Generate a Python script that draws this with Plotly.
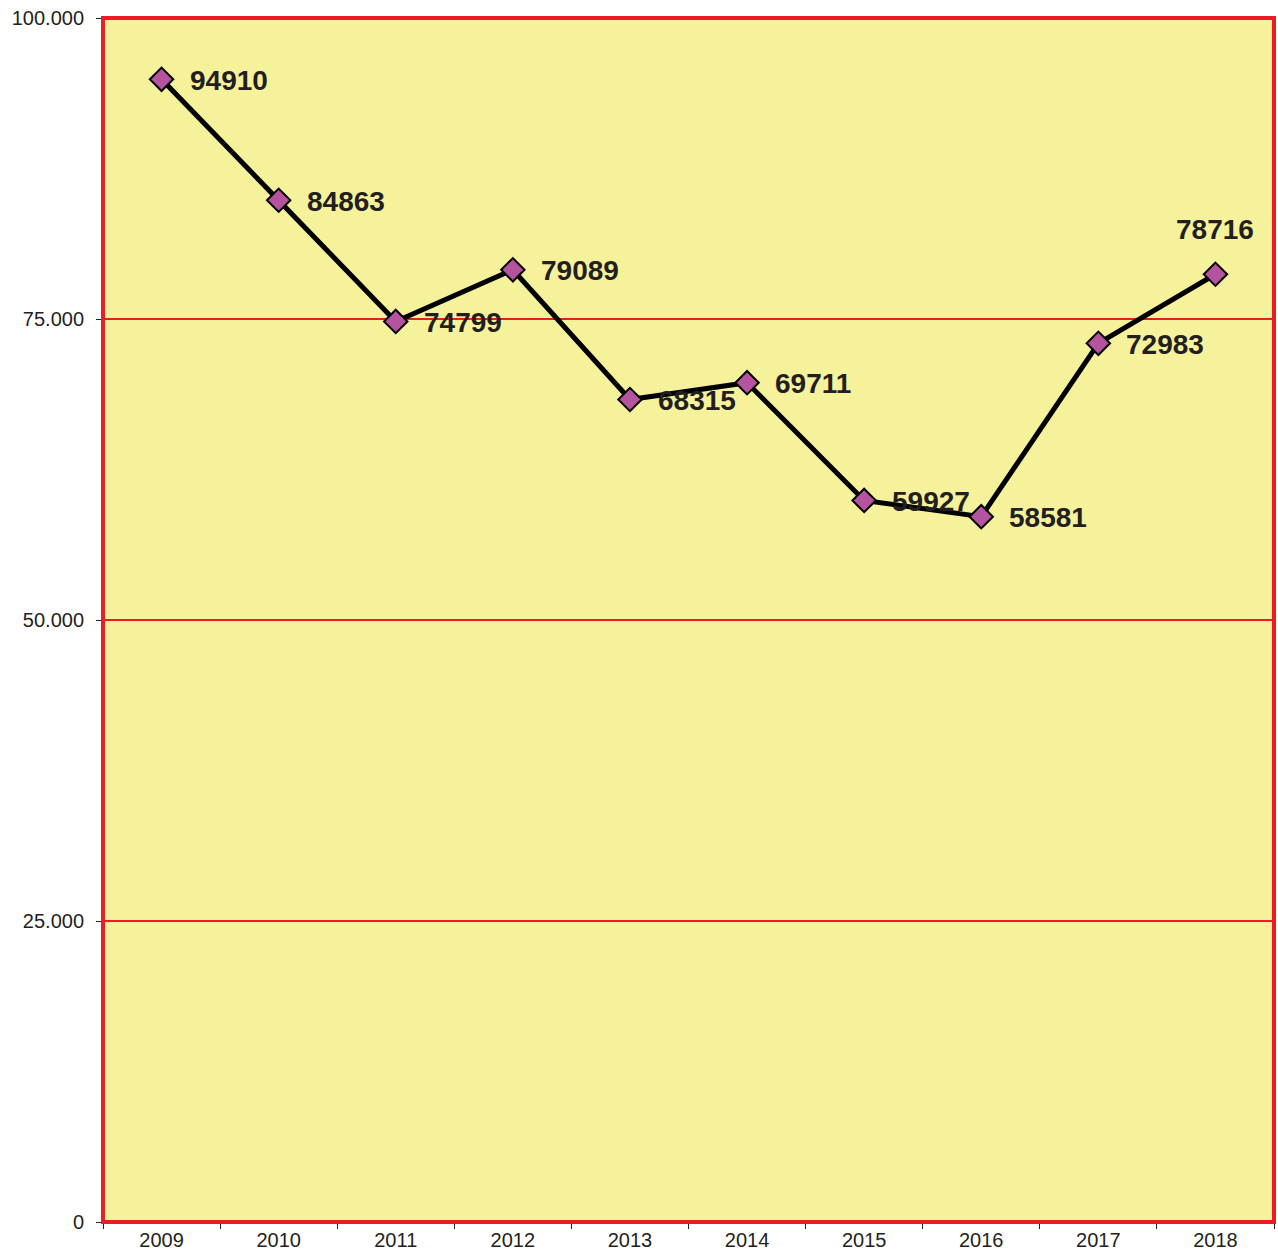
import plotly.graph_objects as go

years = [2009, 2010, 2011, 2012, 2013, 2014, 2015, 2016, 2017, 2018]
values = [94910, 84863, 74799, 79089, 68315, 69711, 59927, 58581, 72983, 78716]
y_ticks = [0, 25000, 50000, 75000, 100000]
y_tick_labels = ["0", "25.000", "50.000", "75.000", "100.000"]

FONT = "Liberation Sans, Arial"
TXT = "#231f20"

fig = go.Figure()
fig.add_trace(go.Scatter(
    x=years, y=values, mode="lines+markers",
    line=dict(color="black", width=5),
    marker=dict(symbol="diamond", size=18, color="#b5539e",
                line=dict(color="black", width=2)),
    hoverinfo="x+y", showlegend=False,
))

for i, (yr, v) in enumerate(zip(years, values)):
    if i == len(years) - 1:
        fig.add_annotation(x=yr, y=v, text=f"<b>{v}</b>", showarrow=False,
                           xanchor="center", yanchor="middle", yshift=45,
                           font=dict(size=28, color=TXT, family=FONT))
    else:
        fig.add_annotation(x=yr, y=v, text=f"<b>{v}</b>", showarrow=False,
                           xanchor="left", yanchor="middle", xshift=26, yshift=-1,
                           font=dict(size=28, color=TXT, family=FONT))

# red frame around plot area
fig.add_shape(type="rect", xref="paper", yref="paper", x0=0, y0=0, x1=1, y1=1,
              line=dict(color="#ed1c24", width=4), layer="above")

fig.update_layout(
    width=1278, height=1251,
    margin=dict(l=103, r=4, t=18, b=29, autoexpand=False),
    paper_bgcolor="white",
    plot_bgcolor="#f6f29b",
    font=dict(family=FONT, color=TXT, size=20),
)
fig.update_xaxes(
    range=[years[0] - 0.5, years[-1] + 0.5], tickvals=years, automargin=False,
    ticks="", showline=True, linecolor=TXT, linewidth=1,
    minor=dict(ticks="outside", ticklen=6, tickcolor=TXT, tickwidth=1,
               tick0=years[0] - 0.5, dtick=1, showgrid=False),
    showgrid=False, zeroline=False, tickfont=dict(size=20, color=TXT),
)
fig.update_yaxes(
    range=[0, 100000], tickvals=y_ticks, ticktext=y_tick_labels, automargin=False,
    ticks="outside", ticklen=6, tickcolor=TXT, tickwidth=1,
    ticklabelstandoff=8,
    showline=True, linecolor=TXT, linewidth=1,
    showgrid=True, gridcolor="#ed1c24", gridwidth=2, zeroline=False,
    tickfont=dict(size=20, color=TXT),
)

fig.write_html("out.html", config={"displayModeBar": False},
               post_script="document.body.style.margin='0';document.body.style.overflow='hidden';")
